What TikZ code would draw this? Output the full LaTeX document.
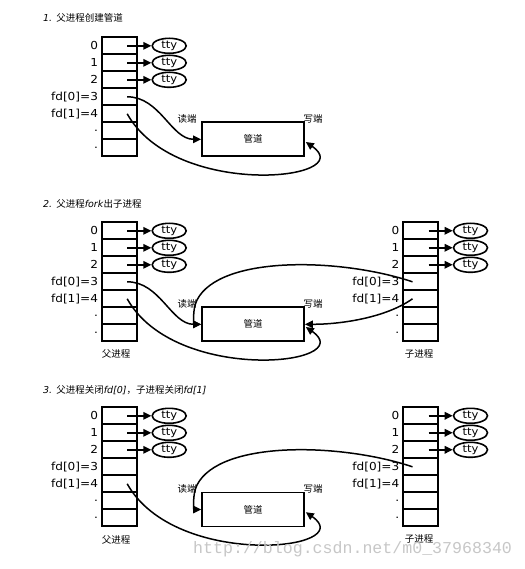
\documentclass[tikz,border=0pt]{standalone}
\usepackage{fontspec}
\setmainfont{DejaVu Sans}
\newfontfamily\labfont[FakeStretch=1.1]{DejaVu Sans}
\newfontfamily\cjk{Noto Sans CJK SC}
\newfontfamily\wmfont{Liberation Mono}
\usetikzlibrary{arrows.meta,shapes.geometric,calc}

\tikzset{
 cell/.style={draw, line width=1.7pt, minimum width=35pt, minimum height=17pt, inner sep=0pt, outer sep=0pt},
 ttybox/.style={draw, ellipse, line width=1.6pt, minimum width=34pt, minimum height=15pt, inner sep=0pt, font=\labfont\fontsize{10.5}{10}\selectfont},
 lab/.style={anchor=east, inner sep=0pt, font=\labfont\fontsize{11}{11}\selectfont},
 link/.style={line width=1.5pt, -{Triangle[length=8pt,width=7.5pt]}},
 pipebox/.style={draw, line width=1.7pt, minimum width=102pt, minimum height=34pt, inner sep=0pt, font=\cjk\fontsize{9.5}{10}\selectfont},
 cn/.style={inner sep=0pt, font=\cjk\fontsize{9.5}{10}\selectfont},
 ttl/.style={anchor=west, inner sep=0pt, font=\fontsize{9.5}{11}\selectfont},
 wm/.style={anchor=west, inner sep=0pt, text=black!22, font=\wmfont\fontsize{16.6}{17}\selectfont},
}

\newcommand\fdtable[3]{%
  \foreach \i/\t in {0/0,1/1,2/2,3/{fd[0]=3},4/{fd[1]=4},5/.,6/.}{
    \node[cell, anchor=north west] (#1\i) at (#2, {#3+17*\i}) {};
    \node[lab] (#1l\i) at ($(#1\i.west)+(-3.5,0)$) {\t};
  }
  \foreach \i in {0,1,2}{
    \node[ttybox] (#1t\i) at ($(#1\i.west)+(67.5,0)$) {tty};
    \draw[link] ([xshift=8pt]#1\i.center) -- (#1t\i);
  }
}

\begin{document}
\begin{tikzpicture}[x=1pt,y=-1pt]
\useasboundingbox (0,0) rectangle (524,569);
\fill[white] (0,0) rectangle (524,569);

% titles
\node[ttl] (t1) at (43,17.5) {\textit{1.} {\cjk 父进程创建管道}};
\node[ttl] (t2) at (43,204) {\textit{2.} {\cjk 父进程}\textit{fork}{\cjk 出子进程}};
\node[ttl] (t3) at (43,390) {\textit{3.} {\cjk 父进程关闭}\textit{fd[0]}{\cjk ，子进程关闭}\textit{fd[1]}};

% panel 1
\fdtable{a}{101.7}{37.3}
\node[pipebox] (p1) at (253,139.3) {管道};
\node[cn] (r1) at (187,118.5) {读端};
\node[cn] (w1) at (313,118.5) {写端};
\draw[link] ([xshift=8pt]a3.center) .. controls +(33,0) and +(-30,0) .. (p1.west);
\draw[link] ([xshift=8pt]a4.center) .. controls +(48,86) and +(55,38) .. ($(p1.east)+(1,2.7)$);

% panel 2
\fdtable{b}{101.7}{222.3}
\fdtable{c}{403}{222.3}
\node[pipebox] (p2) at (253,324.3) {管道};
\node[cn] (r2) at (187,303.5) {读端};
\node[cn] (w2) at (313,303.5) {写端};
\node[cn] (f2) at (116,353.5) {父进程};
\node[cn] (s2) at (419,353.5) {子进程};
\draw[link] ([xshift=8pt]b3.center) .. controls +(33,0) and +(-30,0) .. (p2.west);
\draw[link] ([xshift=8pt]b4.center) .. controls +(48,86) and +(55,38) .. ($(p2.east)+(1,2.7)$);
\draw[link] ([xshift=-8pt]c3.center) .. controls +(-72,-24) and +(23,-45) .. (197,300)
   .. controls +(-5,10) and +(-7,0) .. (p2.west);
\draw[link] ([xshift=-8pt]c4.center) .. controls +(-27,19) and +(36,0) .. (p2.east);

% panel 3
\fdtable{d}{101.7}{407.3}
\fdtable{e}{403}{407.3}
\node[pipebox] (p3) at (253,509.5) {管道};
\node[cn] (r3) at (187,488.5) {读端};
\node[cn] (w3) at (313,488.5) {写端};
\node[cn] (f3) at (116,539.5) {父进程};
\node[cn] (s3) at (419,538.5) {子进程};
\draw[link] ([xshift=8pt]d4.center) .. controls +(48,86) and +(55,38) .. ($(p3.east)+(1,2.7)$);
\draw[link] ([xshift=-8pt]e3.center) .. controls +(-72,-24) and +(23,-45) .. (197,485)
   .. controls +(-5,10) and +(-7,0) .. (p3.west);

% watermark
\node[wm] (wmk) at (193,549) {http://blog.csdn.net/m0\_37968340};
\end{tikzpicture}
\end{document}
